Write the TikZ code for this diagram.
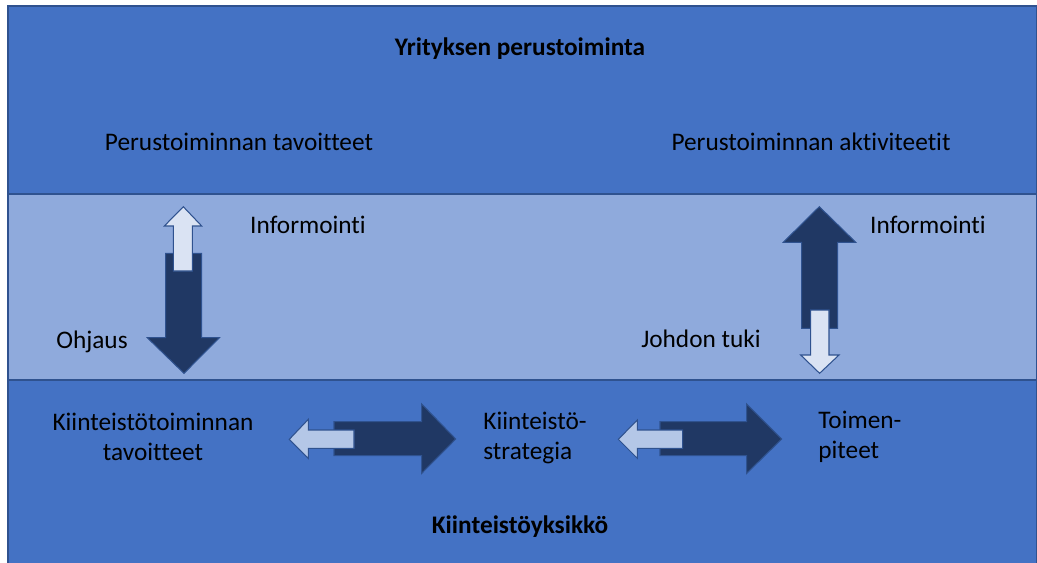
\documentclass[tikz,border=0pt]{standalone}
\usepackage{fontspec}
\setmainfont{Carlito}[Ligatures=NoCommon]
\definecolor{band}{HTML}{4472C4}
\definecolor{midband}{HTML}{8FAADC}
\definecolor{edge}{HTML}{2F528F}
\definecolor{navy}{HTML}{203864}
\definecolor{pale}{HTML}{DAE3F3}
\definecolor{soft}{HTML}{B4C7E7}
\begin{document}
\begin{tikzpicture}[x=0.02cm,y=-0.02cm,
  bandbox/.style={fill=band,draw=edge,line width=0.8pt},
  midbox/.style={fill=midband,draw=edge,line width=0.8pt},
  bigarrow/.style={fill=navy,draw=edge,line width=0.6pt,line join=miter},
  lightarrow/.style={fill=pale,draw=edge,line width=0.6pt,line join=miter},
  softarrow/.style={fill=soft,draw=edge,line width=0.6pt,line join=miter},
  lbl/.style={font=\fontsize{14.4}{17}\selectfont,inner sep=0pt},
  ttl/.style={lbl,font=\fontsize{14.4}{17}\selectfont\bfseries}]
\useasboundingbox (0,0) rectangle (1037,562);
\fill[white] (0,0) rectangle (1037,562);
% three horizontal bands
\draw[bandbox] (8,6) rectangle (1037,194);
\draw[midbox] (8,194) rectangle (1037,380);
\draw[bandbox] (8,380) rectangle (1037,564);

% left vertical pair: Ohjaus down, Informointi up
\draw[bigarrow] (165.7,253.3) -- (201.7,253.3) -- (201.7,337.7) -- (219.3,337.7)
  -- (184,373.3) -- (147.3,337.7) -- (165.7,337.7) -- cycle;
\draw[lightarrow] (173.3,271) -- (192.3,271) -- (192.3,226) -- (201.7,226)
  -- (183.3,206.7) -- (164.3,226) -- (173.3,226) -- cycle;

% right vertical pair: Informointi up, Johdon tuki down
\draw[bigarrow] (801.7,328.3) -- (837.7,328.3) -- (837.7,242.3) -- (855.7,242.3)
  -- (819.3,206.7) -- (783.3,242.3) -- (801.7,242.3) -- cycle;
\draw[lightarrow] (810.7,310) -- (829,310) -- (829,355) -- (839,355)
  -- (819.6,373.3) -- (800.7,355) -- (810.7,355) -- cycle;

% left horizontal pair
\draw[bigarrow] (334,421.7) -- (421.7,421.7) -- (421.7,404) -- (455.7,439)
  -- (421.7,473.3) -- (421.7,455.7) -- (334,455.7) -- cycle;
\draw[softarrow] (354,430) -- (308.3,430) -- (308.3,419.3) -- (289.3,439.3)
  -- (308.3,458.3) -- (308.3,448.3) -- (354,448.3) -- cycle;

% right horizontal pair
\draw[bigarrow] (660,421.7) -- (746.7,421.7) -- (746.7,404) -- (781.7,439)
  -- (746.7,473.3) -- (746.7,455.7) -- (660,455.7) -- cycle;
\draw[softarrow] (682.7,430) -- (637.3,430) -- (637.3,420) -- (618.3,439.3)
  -- (637.3,458.3) -- (637.3,448.3) -- (682.7,448.3) -- cycle;

% labels
\node[ttl] (top) at (520,49) {Yrityksen perustoiminta};
\node[lbl] (goals) at (239,142) {Perustoiminnan tavoitteet};
\node[lbl] (acts) at (811,142) {Perustoiminnan aktiviteetit};
\node[lbl] (infoL) at (308,225) {Informointi};
\node[lbl] (infoR) at (928,225) {Informointi};
\node[lbl] (steer) at (92,342) {Ohjaus};
\node[lbl] (support) at (701,339) {Johdon tuki};
\node[lbl,align=center] (kgoals) at (153,437) {Kiinteistötoiminnan\\tavoitteet};
\node[lbl,align=left,anchor=west] (strat) at (483,438) {Kiinteistö-\\strategia};
\node[lbl,align=left,anchor=west] (acts2) at (818,437) {Toimen-\\piteet};
\node[ttl] (unit) at (520,527) {Kiinteistöyksikkö};
\end{tikzpicture}
\end{document}
